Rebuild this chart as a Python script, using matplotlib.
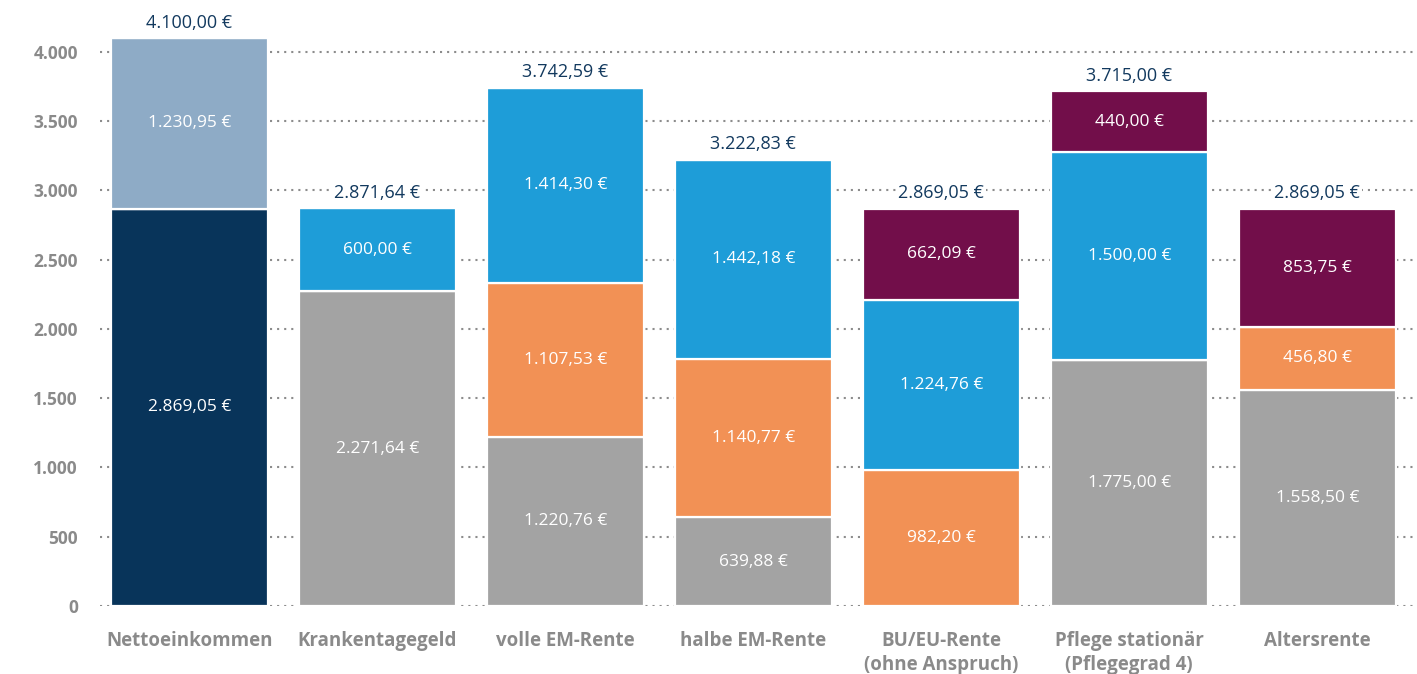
import numpy as np
import matplotlib
matplotlib.use("Agg")
import matplotlib.pyplot as plt

plt.rcParams['font.family'] = ['Open Sans', 'DejaVu Sans']

kategorien = ['Nettoeinkommen', 'Krankentagegeld', 'volle EM-Rente', 'halbe EM-Rente',
              'BU/EU-Rente\n(ohne Anspruch)', 'Pflege stationär\n(Pflegegrad 4)', 'Altersrente']
grau = [2869.05, 2271.64, 1220.76, 639.88, 0.0, 1775.00, 1558.50]
orange = [0.0, 0.0, 1107.53, 1140.77, 982.20, 0.0, 456.80]
blau = [1230.95, 600.00, 1414.30, 1442.18, 1224.76, 1500.00, 0.0]
lila = [0.0, 0.0, 0.0, 0.0, 662.09, 440.00, 853.75]
yticks = [0, 500, 1000, 1500, 2000, 2500, 3000, 3500, 4000]


def eur(v):
    s = f"{v:,.2f}".replace(',', 'X').replace('.', ',').replace('X', '.')
    return s + ' €'


def de_int(v):
    return f"{v:,.0f}".replace(',', '.')


fig = plt.figure(figsize=(14.17, 6.74), dpi=100)
ax = fig.add_axes([100 / 1417, 68 / 674, 1315 / 1417, 568 / 674])

x = np.arange(len(kategorien))
w = 0.835
serien = [
    (grau, ['#08345a'] + ['#a3a3a3'] * 6),
    (orange, ['#f29155'] * 7),
    (blau, ['#8eabc6'] + ['#1e9dd8'] * 6),
    (lila, ['#720e4a'] * 7),
]
bottom = np.zeros(len(x))
for werte, farben in serien:
    werte = np.array(werte)
    ax.bar(x, werte, w, bottom=bottom, color=farben, edgecolor='white',
           linewidth=1.6, zorder=3)
    for i, v in enumerate(werte):
        if v > 0:
            ax.text(x[i], bottom[i] + v / 2, eur(v), ha='center', va='center',
                    color='white', fontsize=12.5, zorder=4)
    bottom += werte

for i, t in enumerate(bottom):
    ax.text(x[i], t + 45, eur(t), ha='center', va='bottom', color='#12395e',
            fontsize=13, zorder=4,
            bbox=dict(facecolor='white', edgecolor='none', pad=1.5))

ax.set_xlim(-0.476, 6.52)
ax.set_ylim(0, 4100)
ax.set_yticks(yticks)
ax.set_yticklabels([de_int(v) for v in yticks], fontweight='bold', color='#8a8a8a', fontsize=12.5)
ax.set_xticks(x)
ax.set_xticklabels(kategorien, fontweight='bold', color='#8a8a8a', fontsize=13.5,
                   linespacing=1.25)
ax.tick_params(axis='both', length=0)
ax.tick_params(axis='y', pad=16)
ax.tick_params(axis='x', pad=18)
for s in ax.spines.values():
    s.set_visible(False)
ax.grid(axis='y', linestyle=(0, (1, 2.4)), color='#8c8c8c', linewidth=1.5, zorder=0)
ax.set_axisbelow(True)

fig.savefig('out.png', dpi=100)
